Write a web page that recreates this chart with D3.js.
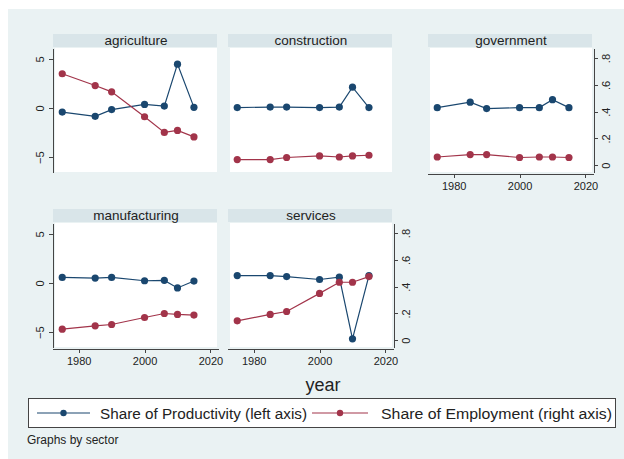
<!DOCTYPE html>
<html>
<head>
<meta charset="utf-8">
<script src="https://cdn.jsdelivr.net/npm/d3@7"></script>
<style>
    body { margin: 0; background: #ffffff; }
    svg { display: block; font-family: "Liberation Sans", Arial, sans-serif; }
    .axis path, .axis line { stroke: #444; shape-rendering: crispEdges; }
    .axis text { fill: #222; font-size: 11px; }
</style>
</head>
<body>
<div id="plot-area"></div>
<script>
// years shared by every sector
const years = [1975, 1985, 1990, 2000, 2006, 2010, 2015];

const sectors = ["agriculture", "construction", "government", "manufacturing", "services"];

// Share of Productivity (left axis)
const productivity = {
    agriculture:   [-0.41, -0.84, -0.16, 0.37, 0.2, 4.46, 0.07],
    construction:  [0.05, 0.1, 0.1, 0.05, 0.1, 2.12, 0.05],
    government:    [0.04, 0.6, -0.06, 0.04, 0.04, 0.85, 0.04],
    manufacturing: [0.57, 0.5, 0.57, 0.23, 0.27, -0.5, 0.2],
    services:      [0.76, 0.76, 0.66, 0.36, 0.6, -5.67, 0.76]
};

// Share of Employment (right axis)
const employment = {
    agriculture:   [0.683, 0.595, 0.548, 0.362, 0.245, 0.26, 0.212],
    construction:  [0.043, 0.043, 0.058, 0.07, 0.062, 0.07, 0.075],
    government:    [0.062, 0.08, 0.08, 0.058, 0.062, 0.062, 0.058],
    manufacturing: [0.083, 0.108, 0.118, 0.17, 0.2, 0.193, 0.188],
    services:      [0.145, 0.193, 0.215, 0.35, 0.433, 0.433, 0.475]
};

const leftTicks = [-5, 0, 5];
const rightTicks = [0, 0.2, 0.4, 0.6, 0.8];
const xTicks = [1980, 2000, 2020];
const seriesNames = ["Share of Productivity (left axis)", "Share of Employment (right axis)"];

const width = 624, height = 459;
const colLeft = [55, 230, 430],
    rowTop = [48, 223],
    panelWidth = 162,
    panelHeight = 124;
const blue = "#1a476f", red = "#a2344a";

// panel layout: which panels carry which axis
const layout = {
    agriculture:   {col: 0, row: 0, left: true,  right: false, bottom: false},
    construction:  {col: 1, row: 0, left: false, right: false, bottom: false},
    government:    {col: 2, row: 0, left: false, right: true,  bottom: true},
    manufacturing: {col: 0, row: 1, left: true,  right: false, bottom: true},
    services:      {col: 1, row: 1, left: false, right: true,  bottom: true}
};

const svg = d3.select("#plot-area").append("svg")
    .attr("width", width)
    .attr("height", height);

//Graph region background
svg.append("rect")
    .attr("x", 8).attr("y", 9)
    .attr("width", width - 8).attr("height", height - 9)
    .attr("fill", "#eaf2f3");

sectors.forEach(function (sector) {
    let p = layout[sector];
    let x0 = colLeft[p.col], y0 = rowTop[p.row];

    let xScale = d3.scaleLinear().domain([1972.8, 2022]).range([x0, x0 + panelWidth]);
    let yLeft = d3.scaleLinear().domain([-6.5, 6.1]).range([y0 + panelHeight, y0]);
    let yRight = d3.scaleLinear().domain([-0.05, 0.875]).range([y0 + panelHeight, y0]);

    let g = svg.append("g");

    //Header strip
    g.append("rect")
        .attr("x", x0 - 2).attr("y", y0 - 14)
        .attr("width", panelWidth + 2).attr("height", 13)
        .attr("fill", "#d9e5e9");
    g.append("text")
        .attr("x", x0 + panelWidth / 2).attr("y", y0 - 3)
        .attr("text-anchor", "middle")
        .style("font-size", "13.5px").style("fill", "#222")
        .text(sector);

    //Plot region
    g.append("rect")
        .attr("x", x0).attr("y", y0)
        .attr("width", panelWidth).attr("height", panelHeight)
        .attr("fill", "#ffffff");

    //Left axis
    if (p.left) {
        let ax = g.append("g")
            .attr("class", "axis")
            .attr("transform", "translate(" + (x0 - 2) + ",0)")
            .call(d3.axisLeft(yLeft).tickValues(leftTicks).tickSize(4).tickSizeOuter(0).tickFormat(d3.format("d")));
        ax.selectAll(".tick text")
            .attr("transform", "rotate(-90)")
            .attr("x", 0).attr("y", -9)
            .attr("dy", 0)
            .style("text-anchor", "middle");
    }

    //Right axis
    if (p.right) {
        let ax = g.append("g")
            .attr("class", "axis")
            .attr("transform", "translate(" + (x0 + panelWidth + 2) + ",0)")
            .call(d3.axisRight(yRight).tickValues(rightTicks).tickSize(4).tickSizeOuter(0)
                .tickFormat(function (d) { return d === 0 ? "0" : d3.format(".1f")(d).replace(/^0/, ""); }));
        ax.selectAll(".tick text")
            .attr("transform", "rotate(-90)")
            .attr("x", 0).attr("y", 16)
            .attr("dy", 0)
            .style("text-anchor", "middle");
    }

    //Bottom axis
    if (p.bottom) {
        g.append("g")
            .attr("class", "axis")
            .attr("transform", "translate(0," + (y0 + panelHeight + 2) + ")")
            .call(d3.axisBottom(xScale).tickValues(xTicks).tickSize(4).tickSizeOuter(0).tickFormat(d3.format("d")))
            .selectAll(".tick text").attr("y", 8);
        g.select(".axis:last-child path.domain")
            .attr("d", "M" + (x0 - 2) + ",0H" + (x0 + panelWidth + 2));
    }

    let prodData = years.map(function (y, i) { return [y, productivity[sector][i]]; });
    let empData = years.map(function (y, i) { return [y, employment[sector][i]]; });

    let lineLeft = d3.line()
        .x(function (d) { return xScale(d[0]); })
        .y(function (d) { return yLeft(d[1]); });
    let lineRight = d3.line()
        .x(function (d) { return xScale(d[0]); })
        .y(function (d) { return yRight(d[1]); });

    //Productivity series
    g.append("path")
        .datum(prodData)
        .attr("d", lineLeft)
        .style("fill", "none").style("stroke", blue).style("stroke-width", 1.2);
    g.selectAll(".dot-prod")
        .data(prodData).enter().append("circle")
        .attr("cx", function (d) { return xScale(d[0]); })
        .attr("cy", function (d) { return yLeft(d[1]); })
        .attr("r", 3.6)
        .attr("fill", blue);

    //Employment series
    g.append("path")
        .datum(empData)
        .attr("d", lineRight)
        .style("fill", "none").style("stroke", red).style("stroke-width", 1.2);
    g.selectAll(".dot-emp")
        .data(empData).enter().append("circle")
        .attr("cx", function (d) { return xScale(d[0]); })
        .attr("cy", function (d) { return yRight(d[1]); })
        .attr("r", 3.6)
        .attr("fill", red);
});

//x title
svg.append("text")
    .attr("x", 323).attr("y", 391)
    .attr("text-anchor", "middle")
    .style("font-size", "18px").style("fill", "#222")
    .text("year");

//Legend
const legend = svg.append("g");
legend.append("rect")
    .attr("x", 28.5).attr("y", 398.5)
    .attr("width", 587).attr("height", 29)
    .attr("fill", "#ffffff").attr("stroke", "#444").attr("stroke-width", 1);

const legendItems = [
    {name: seriesNames[0], color: blue, x1: 37, x2: 90, tx: 100, tw: 207},
    {name: seriesNames[1], color: red, x1: 312, x2: 368, tx: 381, tw: 231}
];
legendItems.forEach(function (item) {
    legend.append("line")
        .attr("x1", item.x1).attr("x2", item.x2)
        .attr("y1", 413).attr("y2", 413)
        .attr("stroke", item.color).attr("stroke-width", 1.2);
    legend.append("circle")
        .attr("cx", (item.x1 + item.x2) / 2).attr("cy", 413)
        .attr("r", 3.2).attr("fill", item.color);
    legend.append("text")
        .attr("x", item.tx).attr("y", 418.5)
        .attr("textLength", item.tw)
        .attr("lengthAdjust", "spacingAndGlyphs")
        .style("font-size", "15.5px").style("fill", "#222")
        .text(item.name);
});

//Note
svg.append("text")
    .attr("x", 27).attr("y", 444)
    .style("font-size", "12px").style("fill", "#222")
    .text("Graphs by sector");
</script>
</body>
</html>
